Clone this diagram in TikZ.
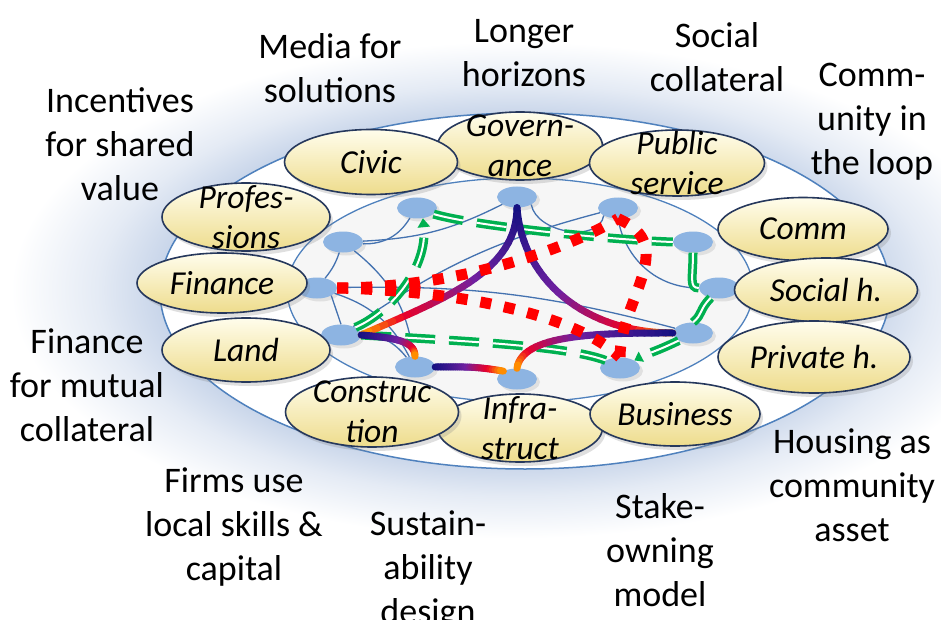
\documentclass[tikz,border=0pt]{standalone}
\usepackage{fontspec}
\setmainfont{Carlito}
\usetikzlibrary{shapes.geometric,shadows,calc,arrows.meta}

\definecolor{glowc}{RGB}{196,210,232}
\definecolor{ringc}{RGB}{79,129,189}
\definecolor{linkc}{RGB}{68,114,176}
\definecolor{dotc}{RGB}{141,180,226}
\definecolor{ellTop}{RGB}{255,253,236}
\definecolor{ellMid}{RGB}{249,237,178}
\definecolor{ellBot}{RGB}{238,220,140}
\definecolor{ellEdge}{RGB}{38,56,92}
\definecolor{grn}{RGB}{0,176,80}
\definecolor{gnavy}{RGB}{16,16,128}
\definecolor{gmid}{RGB}{112,32,160}
\definecolor{gred}{RGB}{235,0,40}
\definecolor{gorange}{RGB}{255,140,0}
\definecolor{innerc}{RGB}{246,246,246}

\pgfdeclareradialshading{glow}{\pgfpoint{0bp}{0bp}}{color(0bp)=(glowc); color(12bp)=(glowc); color(14.5bp)=(glowc!45!white); color(17.5bp)=(white); color(50bp)=(white)}

\newcommand\setgc[1]{%
  \pgfmathsetmacro\gs{#1}%
  \ifdim\gs pt<0.5pt
    \pgfmathsetmacro\gp{200*\gs}%
    \colorlet{gc}{gmid!\gp!gnavy}%
  \else\ifdim\gs pt<0.85pt
    \pgfmathsetmacro\gp{(\gs-0.5)*100/0.35}%
    \colorlet{gc}{gred!\gp!gmid}%
  \else
    \pgfmathsetmacro\gp{min(100,(\gs-0.85)*100/0.15)}%
    \colorlet{gc}{gorange!\gp!gred}%
  \fi\fi}

\newcommand\gradbez[4]{%
  \foreach \i in {0,...,29}{%
    \pgfmathsetmacro\ta{\i/30}%
    \pgfmathsetmacro\tb{(\i+1)/30}%
    \setgc{\tb}%
    \draw[gradline, draw=gc]
      ($ {(1-\ta)^3}*(#1) + {3*(1-\ta)^2*\ta}*(#2) + {3*(1-\ta)*\ta^2}*(#3) + {\ta^3}*(#4) $) --
      ($ {(1-\tb)^3}*(#1) + {3*(1-\tb)^2*\tb}*(#2) + {3*(1-\tb)*\tb^2}*(#3) + {\tb^3}*(#4) $);
  }}

\tikzset{
  sector/.style={ellipse, draw=ellEdge, line width=1.6pt, top color=ellTop,
    middle color=ellMid, bottom color=ellBot, inner sep=0pt,
    drop shadow={opacity=.25, shadow xshift=3pt, shadow yshift=-4pt}},
  tag/.style={font=\fontsize{33.5}{40}\selectfont\itshape, align=center, inner sep=0pt},
  hub/.style={ellipse, fill=dotc, minimum width=40pt, minimum height=21pt, inner sep=0pt,
    drop shadow={opacity=.18, shadow xshift=3pt, shadow yshift=-3pt}},
  goal/.style={font=\fontsize{36}{44}\selectfont, align=center, inner sep=0pt},
  link/.style={draw=linkc, line width=1.3pt},
  weak/.style={draw=red, line width=11pt, dash pattern=on 11pt off 13pt},
  flow/.style={draw=grn, line width=3.5pt, double=white, double distance=2pt},
  flowdash/.style={flow, dash pattern=on 30pt off 14pt},
  gradline/.style={line width=7pt, line cap=round}
}

\begin{document}
\begin{tikzpicture}[x=1pt,y=-1pt]
\useasboundingbox (0,0) rectangle (941,620);
\begin{scope}
  \clip (0,0) rectangle (941,620);
  \shade[shading=glow] (-205,-65) rectangle (1235,645);
\end{scope}

\draw[ringc, line width=1.5pt, fill=white] (525,291) ellipse [x radius=365, y radius=178];
\draw[ringc, line width=1.3pt, fill=innerc] (520,290) ellipse [x radius=233, y radius=112];

\node[hub] (dG) at (517,197) {};
\node[hub] (dT) at (417,208) {};
\node[hub] (dP) at (618,208) {};
\node[hub] (dPr) at (343,242) {};
\node[hub] (dC) at (693,242) {};
\node[hub] (dF) at (317,288) {};
\node[hub] (dS) at (719,288) {};
\node[hub] (dL) at (341,335) {};
\node[hub] (dPv) at (693,333) {};
\node[hub] (dCo) at (415,367) {};
\node[hub] (dI) at (517,379) {};
\node[hub] (dB) at (620,368) {};

\draw[link] (dT) to[bend left=30] (dPr);
\draw[link] (dPr) to[bend right=12] (dG);
\draw[link] (dPr) to[bend left=10] (dF);
\draw[link] (dPr) to[bend left=22] (dCo);
\draw[link] (dF.south east) -- (dL.north);
\draw[link] (dF) to[bend left=22] (dCo);
\draw[link] (dL) to[bend left=25] (dCo);
\draw[link] (dF) to[bend left=8] (dPv);
\draw[link] (dL) to[bend left=10] (dP);
\draw[link] (dG.south east) to[out=-80, in=-100] (dP.south west);
\draw[link] (dP.south) to[out=-80, in=180] (dS.west);

\draw[flowdash, -{Triangle[length=9pt,width=12pt]}] (dL.north east) .. controls +(35,-15) and +(5,50) .. (dT.-60);
\draw[flowdash] (dT.-20) .. controls +(40,12) and +(-60,-2) .. (dC.west);
\draw[flow] (dC.south) .. controls +(0,25) and +(-10,0) .. (dS.west);
\draw[flow] (dS.-130) .. controls +(-12,12) and +(10,-8) .. (dPv.north);
\draw[flowdash, -{Triangle[length=8pt,width=11pt]}] (dPv.south west) .. controls +(-25,12) and +(15,-8) .. (dB.north east);
\draw[flowdash] (dL.east) .. controls +(100,6) and +(-40,-15) .. (dB.north west);

\coordinate (a1) at ($(dG.south)+(0,65)$);
\coordinate (a2) at ($(dL.east)+(80,-35)$);
\coordinate (b1) at ($(dG.south)+(5,70)$);
\coordinate (b2) at ($(dPv.west)+(-90,0)$);
\coordinate (c1) at ($(dL.east)+(35,3)$);
\coordinate (c2) at ($(dCo.north)+(0,-15)$);
\coordinate (e1) at ($(dCo.east)+(30,0)$);
\coordinate (e2) at ($(dI.150)+(-30,-5)$);
\coordinate (f1) at ($(dPv.west)+(-70,0)$);
\coordinate (f2) at ($(dI.north)+(5,-35)$);
\gradbez{dG.south}{a1}{a2}{dL.east}
\gradbez{dG.south}{b1}{b2}{dPv.west}
\gradbez{dL.east}{c1}{c2}{dCo.north}
\gradbez{dCo.east}{e1}{e2}{dI.150}
\gradbez{dPv.west}{f1}{f2}{dI.north}

\draw[weak] (dF.east) .. controls +(120,0) and +(-50,30) .. (dP.south);
\draw[weak] (dF.east) .. controls +(130,3) and +(-40,-40) .. (dB.north);
\draw[weak] (dP.south) .. controls +(62,27) and +(0,-58) .. (dB.north);

\node[sector, minimum width=165pt, minimum height=68pt] (gov) at (520,146) {};
\node[sector, minimum width=173pt, minimum height=65pt] (civic) at (371,162) {};
\node[sector, minimum width=175pt, minimum height=66pt] (pub) at (677,163) {};
\node[sector, minimum width=168pt, minimum height=68pt] (prof) at (246,217) {};
\node[sector, minimum width=170pt, minimum height=60pt] (fin) at (222,283) {};
\node[sector, minimum width=168pt, minimum height=64pt] (land) at (246,350) {};
\node[sector, minimum width=170pt, minimum height=63pt] (comm) at (803,229) {};
\node[sector, minimum width=183pt, minimum height=64pt] (soc) at (826,290) {};
\node[sector, minimum width=192pt, minimum height=72pt] (priv) at (814,357) {};
\node[sector, minimum width=165pt, minimum height=68pt] (infra) at (520,428) {};
\node[sector, minimum width=173pt, minimum height=70pt] (cons) at (372,412) {};
\node[sector, minimum width=170pt, minimum height=64pt] (bus) at (675,414) {};

\node[tag] (govT) at (gov) {Govern-\\ance};
\node[tag] (civicT) at (civic) {Civic};
\node[tag] (pubT) at (pub) {Public\\service};
\node[tag] (profT) at (prof) {Profes-\\sions};
\node[tag] (finT) at (fin) {Finance};
\node[tag] (landT) at (land) {Land};
\node[tag] (commT) at (comm) {Comm};
\node[tag] (socT) at (soc) {Social h.};
\node[tag] (privT) at (priv) {Private h.};
\node[tag] (infraT) at (infra) {Infra-\\struct};
\node[tag] (consT) at (cons) {Construc\\tion};
\node[tag] (busT) at (bus) {Business};

\node[goal] (media) at (330,68) {Media for\\solutions};
\node[goal] (longer) at (524,53) {Longer\\horizons};
\node[goal] (socialc) at (717,57) {Social\\collateral};
\node[goal] (loop) at (872,122) {Comm-\\unity in\\the loop};
\node[goal] (incent) at (120,144) {Incentives\\for shared\\value};
\node[goal] (mutual) at (87,385) {Finance\\for mutual\\collateral};
\node[goal] (firms) at (234,527) {Firms use\\local skills \&\\capital};
\node[goal] (sustain) at (428,570) {Sustain-\\ability\\design};
\node[goal] (stake) at (660,550) {Stake-\\owning\\model};
\node[goal] (housing) at (852,485) {Housing as\\community\\asset};
\end{tikzpicture}
\end{document}
